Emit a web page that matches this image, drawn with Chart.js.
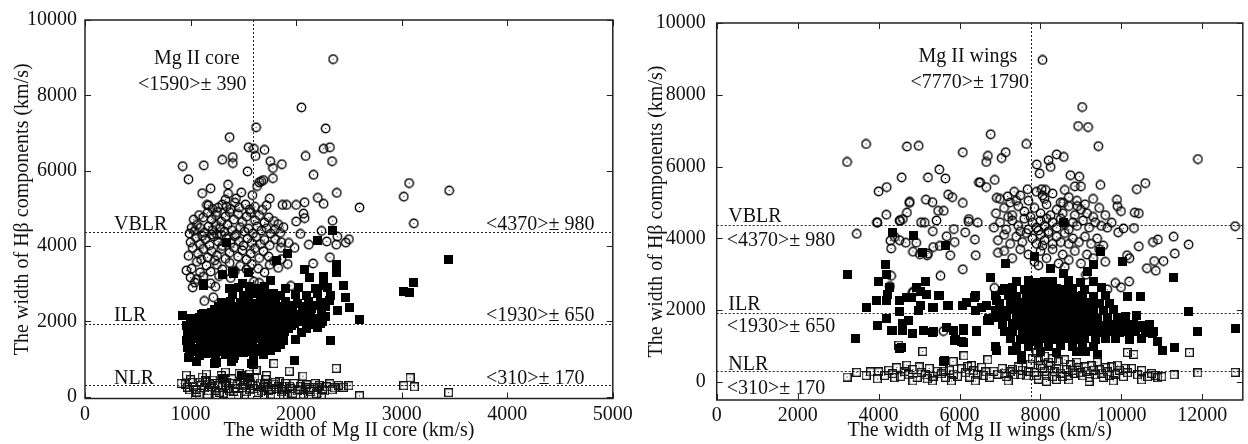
<!DOCTYPE html>
<html><head><meta charset="utf-8">
<script src="https://cdn.jsdelivr.net/npm/chart.js@4/dist/chart.umd.min.js"></script>
<style>
html,body{margin:0;padding:0;background:#fff;width:1248px;height:444px;overflow:hidden}
#cL{position:absolute;left:0;top:0}
#cR{position:absolute;left:624px;top:0}
</style></head>
<body>
<canvas id="cL" width="660" height="444"></canvas>
<canvas id="cR" width="624" height="444"></canvas>
<script>
// ---------------- DATA ----------------
const hbetaTicks = [0, 2000, 4000, 6000, 8000, 10000];
const coreTicks = [0, 1000, 2000, 3000, 4000, 5000];
const wingsTicks = [0, 2000, 4000, 6000, 8000, 10000, 12000];
const hbetaMeans = [4370, 1930, 310];
const coreMean = 1590;
const wingsMean = 7770;

// Left panel: Mg II core width vs Hβ component width
const coreVBLR = [[2350,8960],[2050,7680],[2280,7120],[1620,7150],[1370,6890],[1550,6620],[1600,6580],[1700,6550],[1615,6390],[2260,6580],[2320,6620],[2090,6390],[1300,6290],[1400,6360],[1400,6200],[1755,6250],[1865,6170],[1780,6070],[2340,6250],[925,6120],[1125,6140],[1540,5980],[2165,5890],[980,5770],[1670,5720],[1650,5690],[1690,5750],[1780,5800],[1355,5630],[1630,5590],[1110,5400],[1190,5530],[1355,5390],[1480,5420],[1585,5350],[1750,5260],[2385,5410],[3070,5670],[3020,5310],[3450,5470],[3115,4600],[2600,5020],[2205,5280],[2260,5120],[2080,5160],[2000,5090],[1910,5090],[1870,5090],[1155,5090],[1260,5020],[2070,4860],[2080,4740],[2000,4650],[2240,4400],[2345,4670],[2390,4250],[2500,4180],[2470,4090],[2380,4035],[2290,4120],[2120,4035],[2320,3700],[2160,3535],[2040,4320],[1985,3950],[1855,3950],[980,3740],[1000,3160],[1040,3030],[1020,2900],[1130,2540],[1215,2640],[1235,2920],[1950,2940],
[1170,5080],[1210,4980],[1300,5100],[1340,5050],[1380,4980],[1420,5150],[1460,5020],[1520,5100],[1560,4970],[1610,5040],[1680,4960],[1720,5080],[1430,5260],[1330,5230],[1250,4900],
[1030,4700],[1080,4820],[1120,4760],[1160,4880],[1200,4700],[1240,4820],[1290,4650],[1330,4780],[1370,4900],[1410,4700],[1450,4850],[1490,4640],[1530,4780],[1570,4900],[1610,4680],[1650,4820],[1700,4620],[1740,4760],[1790,4660],[1830,4580],[1880,4500],[1010,4480],[1060,4560],
[990,4330],[1040,4400],[1090,4480],[1130,4350],[1170,4520],[1210,4420],[1250,4300],[1280,4480],[1320,4380],[1350,4560],[1390,4420],[1430,4300],[1470,4500],[1510,4380],[1550,4460],[1590,4330],[1630,4520],[1670,4410],[1720,4470],[1760,4330],[1800,4440],[1850,4350],[1240,4560],[1200,4300],
[1000,4100],[1050,4220],[1090,4050],[1140,4180],[1180,4020],[1220,4250],[1260,4120],[1300,4000],[1340,4200],[1380,4080],[1420,4260],[1460,4130],[1500,4010],[1540,4200],[1580,4080],[1620,4240],[1660,4050],[1700,4160],[1750,4020],[1800,4180],[1860,4100],[1930,4080],[1290,4290],[1110,4270],
[1020,3950],[1070,3800],[1120,3920],[1160,3700],[1200,3860],[1250,3750],[1290,3920],[1330,3660],[1370,3820],[1410,3960],[1450,3720],[1490,3880],[1530,3640],[1570,3800],[1610,3940],[1650,3680],[1690,3860],[1740,3720],[1790,3600],[1860,3650],[1920,3520],[1100,3640],[1230,3620],
[1010,3400],[1060,3580],[1090,3300],[1150,3480],[1190,3320],[1250,3500],[1300,3380],[1370,3550],[1420,3340],[1470,3470],[1530,3380],[1580,3520],[1640,3400],[1700,3300],[1750,3500],[1830,3420],[1120,3180],[1270,3200],[1380,3150],[1600,3050],[1650,3020],[1190,3010],[960,3350],[1060,3120]];

const coreILR = [[2340,4420],[2200,4140],[3445,3640],[2380,3510],[2380,3290],[1915,3800],[1810,3610],[2080,3370],[2130,3160],[2260,3200],[2300,2900],[2450,2940],[2470,2630],[2510,2370],[2390,2280],[2600,2060],[2325,1490],[1990,1510],[3115,3030],[3020,2800],[3070,2760],[1980,1930],[1850,1400],[1760,1230],[1980,965],[925,2150],[1105,2175],[1195,2240],[1125,2960],[1305,3230],[1400,3320],[1550,3290],[1490,3000],[1365,2880],[1760,3090],[1785,2740],[1355,2470],[1350,2320],[985,1050],[1060,920],[1230,880],[1410,1010],[1580,880],[1340,4100],[1410,3260],[1120,3000],[1250,900],[1390,940],[1600,850],[1480,560],[1560,520],[1300,480],
[990,1120],[1080,1080],[1150,1150],[1240,1060],[1330,1130],[1420,1090],[1500,1160],[1600,1070],[1690,1120],
[970,1310],[1050,1280],[1130,1340],[1210,1290],[1300,1320],[1380,1270],[1460,1350],[1550,1300],[1640,1280],[1720,1340],[1810,1300],
[960,1500],[1040,1530],[1120,1480],[1200,1520],[1290,1490],[1370,1540],[1450,1470],[1530,1510],[1620,1530],[1700,1480],[1790,1520],[1880,1500],
[970,1700],[1050,1680],[1140,1730],[1220,1690],[1300,1720],[1390,1670],[1470,1710],[1550,1740],[1640,1690],[1720,1710],[1800,1680],[1890,1730],[2050,1700],
[960,1890],[1040,1920],[1130,1880],[1210,1910],[1290,1940],[1370,1880],[1460,1920],[1540,1900],[1630,1940],[1710,1890],[1790,1910],[1880,1930],[1960,1880],[2140,1910],[2230,1950],
[1000,2080],[1080,2110],[1170,2140],[1250,2090],[1330,2120],[1410,2080],[1490,2130],[1580,2100],[1660,2070],[1740,2120],[1820,2100],[1900,2140],[2000,2090],[2100,2130],[2200,2080],[2280,2120],
[1230,2310],[1310,2280],[1400,2330],[1480,2290],[1560,2320],[1640,2280],[1720,2310],[1810,2340],[1890,2290],[1970,2320],[2060,2280],[2150,2330],[2240,2300],
[1290,2500],[1380,2530],[1470,2490],[1550,2520],[1630,2480],[1720,2530],[1800,2500],[1900,2520],[2010,2480],[2120,2530],[2230,2500],[2320,2540],
[1400,2700],[1500,2680],[1580,2730],[1660,2690],[1740,2710],[1850,2680],[1990,2720],[2100,2690],[2200,2730],[2330,2680],
[1450,2890],[1560,2920],[1640,2870],[1700,2930],[1900,2880],[2020,2910],[2180,2870],[2260,2940],
[1020,1210],[1110,1190],[1190,1230],[1280,1200],[1370,1220],[1450,1180],[1540,1210],[1630,1190],[1720,1230],
[1000,1410],[1090,1390],[1170,1420],[1250,1380],[1340,1410],[1420,1400],[1500,1430],[1590,1390],[1680,1410],[1760,1420],[1850,1380],
[1000,1610],[1080,1590],[1160,1620],[1250,1600],[1330,1580],[1410,1620],[1490,1600],[1580,1590],[1660,1620],[1750,1600],[1840,1610],
[1010,1800],[1090,1820],[1180,1790],[1260,1810],[1340,1800],[1430,1830],[1510,1790],[1600,1810],[1680,1800],[1760,1820],[1850,1790],[1930,1810],[2100,1800],[2200,1830],
[1040,2000],[1120,2010],[1210,1990],[1290,2020],[1370,2000],[1450,2010],[1540,1990],[1620,2020],[1700,2000],[1780,2010],[1860,1990],[1950,2020],[2050,2000],[2150,2010],[2250,1990],
[1120,2210],[1200,2200],[1290,2220],[1370,2190],[1450,2210],[1530,2200],[1620,2220],[1700,2190],[1780,2210],[1860,2200],[1940,2220],[2040,2190],[2140,2210],[2240,2200],
[1260,2400],[1340,2410],[1430,2390],[1510,2420],[1600,2400],[1680,2390],[1760,2410],[1850,2400],[1930,2420],[2060,2390],[2180,2410],[2280,2400]];

const coreNLR = [[3080,500],[3020,290],[3120,260],[3445,105],[2600,20],[2380,750],[2500,290],[1790,875],[1935,675],[2065,545],[910,350],[960,570],
[950,330],[990,180],[1000,450],[1030,280],[1060,120],[1080,380],[1110,520],[1130,230],[1160,60],[1180,330],[1210,440],[1240,170],[1260,290],[1290,560],[1310,90],[1340,380],[1360,220],[1390,470],[1410,140],[1440,320],[1460,620],[1490,230],[1510,40],[1540,410],[1560,180],[1590,300],[1610,500],[1640,110],[1660,360],[1690,240],[1710,450],[1740,160],[1760,60],[1790,330],[1810,220],[1840,400],[1860,130],[1890,280],[1920,30],[1950,210],[1980,350],[2010,150],[2040,270],[2070,60],[2100,310],[2130,190],[2160,240],[2190,80],[2220,300],[2250,200],[2290,260],[2320,340],[2360,230],[2400,300],[2450,250],
[970,250],[1020,380],[1050,200],[1100,300],[1140,420],[1170,150],[1200,270],[1230,350],[1270,110],[1300,250],[1330,300],[1370,150],[1400,350],[1430,220],[1470,410],[1500,290],[1530,130],[1570,360],[1600,210],[1630,280],[1670,150],[1700,320],[1730,260],[1770,200],[1800,380],[1830,260],[1870,190],[1900,350],[1940,280],[1970,90],[2030,200],[2090,230],[2140,130],[2200,250],[2270,150],[2340,180],[1080,40],[1250,20],[1450,30],[1700,30],[1880,20],[2120,20],[2240,10],[1150,600],[1330,650],[1620,700],[1720,560],[1560,600],[2180,350]];

// Right panel: Mg II wings width vs Hβ component width
const wingsVBLR = [[8050,8970],[9030,7660],[8930,7130],[9175,7100],[9430,6570],[7650,6630],[6770,6900],[3690,6630],[4700,6560],[4990,6580],[3220,6130],[6080,6400],[7140,6400],[7040,6240],[6700,6300],[6660,6130],[8400,6340],[8575,6270],[8200,6175],[8250,5990],[7910,6060],[7980,5810],[11890,6210],[5500,5920],[5650,5670],[5220,5700],[4570,5700],[6510,5560],[6660,5430],[6870,5630],[8740,5760],[8960,5720],[8850,5450],[9000,5450],[9480,5490],[10590,5540],[10380,5370],[4200,5430],[4000,5310],[7680,5370],[8030,5370],[8130,5350],[5170,5080],[5330,5010],[5720,5220],[5820,5150],[4760,4990],[6080,4990],[6920,5130],[7190,5170],[7400,5050],[8560,4990],[8910,4900],[9890,5080],[9990,4760],[9900,4900],[10330,4720],[10430,4700],[12810,4340],[4700,4720],[4190,4660],[3970,4440],[4530,4490],[4600,4540],[5140,4440],[6220,4470],[6450,4440],[3460,4130],[4290,3940],[4310,3720],[4930,3880],[5200,3530],[5770,3530],[6140,4170],[6380,3970],[6400,3530],[6080,3140],[5860,4260],[9760,4440],[9920,4170],[10050,4280],[10310,4290],[10430,3780],[10780,3900],[10900,3970],[11290,4050],[11320,3580],[11660,3830],[10810,3370],[11040,3370],[10850,3100],[10630,3170],[10140,3530],[10200,3450],[9850,2760],[9990,2640],[10190,2800],[9650,2580],[9125,2990],[6860,2620],
[3960,4450],[4520,4500],[4770,5020],[5050,4450],[5470,4770],[5610,4770],[5430,4500],[5340,4200],[5680,4060],[5880,3900],[4400,4040],[4520,3950],[4670,3880],[4850,3630],[5020,3560],[5220,3580],[5350,3760],[5510,3790],[4850,2490],[4280,2670],[5530,2960],[4310,2960],[4850,2510],[5600,1420],[7100,1950],[6230,4540],[6480,5560],
[7000,5100],[7250,5000],[7500,5200],[7700,5050],[7900,5300],[8100,5100],[8300,5250],[8500,5000],[8700,5150],[8900,5050],[9100,4950],[9300,5100],[7350,5300],[8600,5350],[8050,5200],
[6900,4700],[7100,4850],[7300,4650],[7450,4900],[7600,4750],[7750,4600],[7850,4850],[8000,4700],[8150,4950],[8250,4650],[8400,4800],[8550,4700],[8700,4900],[8850,4650],[9000,4800],[9150,4700],[9300,4600],[9450,4850],[9600,4650],[7200,4600],
[6850,4300],[7000,4450],[7150,4250],[7300,4500],[7450,4350],[7600,4550],[7700,4250],[7800,4450],[7900,4300],[8000,4500],[8100,4350],[8200,4200],[8300,4450],[8400,4300],[8500,4550],[8600,4400],[8700,4250],[8800,4450],[8900,4350],[9050,4500],[9200,4300],[9350,4450],[9500,4350],[9650,4300],[7950,4220],[8150,4550],
[6950,3950],[7100,4100],[7250,3850],[7400,4050],[7550,3900],[7650,4150],[7800,4000],[7900,3850],[8000,4100],[8100,3950],[8200,4150],[8300,3850],[8400,4050],[8500,3900],[8600,4150],[8700,3850],[8800,4000],[8950,3900],[9100,4050],[9250,3850],[9400,4000],[9550,3800],[7500,4200],[8050,3800],
[7100,3650],[7300,3450],[7500,3700],[7700,3550],[7850,3350],[8000,3650],[8150,3450],[8300,3700],[8450,3300],[8550,3550],[8700,3400],[8850,3650],[9000,3300],[9150,3550],[9300,3450],[9450,3700],[7950,3250],[8600,3200],[6950,3600],[9600,3350]];

const wingsILR = [[8570,4450],[4340,4170],[4860,4080],[5080,3620],[5650,3810],[7860,3490],[9480,3640],[10020,3350],[9170,3080],[9320,3260],[8560,3030],[8250,3170],[3220,2990],[4180,3260],[4200,2990],[4010,2810],[4270,2620],[6770,2900],[7140,3310],[11290,2910],[4200,2260],[4700,2350],[5030,2530],[5170,2800],[5180,2440],[5470,2400],[5700,2120],[5330,2080],[5030,2120],[6080,2120],[6390,2400],[6660,2140],[6400,1990],[6090,1480],[5690,1530],[3690,2080],[3970,1580],[3440,1210],[4330,1440],[4590,1620],[4830,1350],[5340,1390],[5900,1180],[6090,1100],[6420,1410],[6720,1760],[6880,980],[7370,890],[7530,730],[7780,1120],[4560,950],[5630,590],[9400,770],[9110,850],[11020,870],[11300,960],[10890,1130],[10160,2370],[10460,2370],[10380,1850],[11660,1970],[11890,1420],[12810,1480],[10580,1530],[10780,1350],
[4230,2450],[4520,2260],[4810,2350],[4930,2630],[5180,2450],[5510,2400],[5720,2130],[5350,2080],[4980,1990],[4520,1960],[4730,1710],[4190,1760],[3950,2260],[6170,2220],[6370,2350],[6540,2080],[6700,1710],[6910,2260],[7070,2540],[4350,1440],[4580,1440],[5100,1440],[5350,1420],[5840,1440],[6090,1440],[6420,1440],[5880,1170],[6060,1120],[6740,1710],[6910,890],[7320,890],[7530,620],[4520,940],[5610,570],
[7400,2800],[7700,2830],[7900,2780],[8100,2810],[8300,2790],[8700,2820],[9000,2780],[9300,2810],
[7100,2600],[7300,2620],[7600,2580],[7800,2610],[8000,2590],[8200,2630],[8400,2600],[8600,2570],[8800,2610],[9100,2590],[9500,2620],
[6900,2400],[7200,2420],[7400,2380],[7650,2410],[7850,2390],[8050,2420],[8250,2380],[8450,2410],[8650,2400],[8850,2380],[9050,2420],[9300,2390],[9600,2410],
[7000,2200],[7250,2180],[7450,2220],[7650,2190],[7850,2210],[8050,2180],[8250,2220],[8450,2200],[8650,2180],[8850,2210],[9050,2190],[9250,2220],[9450,2180],[9700,2200],
[6900,2000],[7100,1980],[7300,2020],[7500,1990],[7700,2010],[7900,1980],[8100,2020],[8300,2000],[8500,1980],[8700,2010],[8900,1990],[9100,2020],[9300,1980],[9550,2000],[9800,2010],
[6950,1800],[7150,1820],[7400,1780],[7600,1810],[7800,1790],[8000,1820],[8200,1800],[8400,1780],[8600,1810],[8800,1790],[9000,1820],[9200,1800],[9400,1780],[9650,1810],[9900,1790],[10100,1820],
[7050,1600],[7300,1620],[7500,1580],[7700,1610],[7900,1590],[8100,1620],[8300,1600],[8500,1580],[8700,1610],[8900,1590],[9100,1620],[9300,1600],[9500,1580],[9700,1610],[9900,1590],[10100,1620],[10300,1600],[10500,1580],[10700,1610],
[7100,1400],[7300,1420],[7550,1380],[7750,1410],[7950,1390],[8150,1420],[8350,1400],[8550,1380],[8750,1410],[8950,1390],[9150,1420],[9350,1400],[9550,1380],[9750,1410],[9950,1390],[10150,1420],[10350,1400],[10600,1380],[10800,1410],
[7250,1200],[7500,1180],[7700,1220],[7900,1190],[8100,1210],[8300,1180],[8500,1220],[8700,1200],[8900,1180],[9100,1210],[9350,1190],[9600,1220],[9850,1200],[10200,1180],[10500,1210],
[7400,1000],[7700,980],[7950,1020],[8200,990],[8500,1010],[8800,980],[9050,1020],[9300,1000],
[8000,850],[8400,830],[8900,860]];

const wingsNLR = [[3220,140],[3460,270],[3690,180],[3970,90],[4500,1030],[5090,850],[6110,730],[6700,620],[6290,460],[5840,570],[7910,820],[8100,720],[8300,650],[10150,820],[10310,770],[11680,820],[11890,255],[12810,270],[4850,30],[5330,30],[5800,30],[6390,30],[7200,30],[9800,30],[10500,60],[11300,200],[11000,150],[10850,180],[10900,120],
[4000,280],[4150,180],[4250,330],[4350,230],[4450,400],[4550,150],[4650,290],[4750,200],[4850,350],[4950,130],[5050,270],[5150,200],[5250,380],[5350,160],[5450,300],[5550,230],[5650,130],[5750,330],[5850,220],[5950,160],[6050,370],[6150,260],[6250,140],[6350,310],[6450,200],[6550,410],[6650,280],[6750,130],[6850,300],[6950,220],[7050,380],[7150,150],[7250,280],[7350,200],[7450,420],[7550,330],[7650,170],[7750,500],[7850,260],[7950,600],[8050,380],[8150,180],[8250,450],[8350,280],[8450,560],[8550,150],[8650,350],[8750,480],[8850,240],[8950,400],[9050,170],[9150,300],[9250,450],[9350,200],[9450,340],[9550,130],[9650,280],[9750,420],[9850,220],[9950,330],[10050,150],[10150,260],[10250,380],[10400,200],[10500,320],[10650,150],[10750,240],
[7100,250],[7300,350],[7500,200],[7700,300],[7800,650],[7900,180],[8000,450],[8100,300],[8200,550],[8300,150],[8400,380],[8500,250],[8600,620],[8700,180],[8800,320],[8900,550],[9000,260],[9100,420],[9200,130],[9300,330],[9400,560],[9500,250],[9600,400],[9700,180],[9900,470],[10100,380],[7950,80],[8400,70],[8700,60],[9200,20],[8150,20],[4400,120],[5000,420],[5600,300],[6200,430],[6600,180],[4700,470],[3800,280],[5200,90]];

// -------------- MARKERS --------------
function marker(kind){
  const c = document.createElement('canvas');
  const n = kind === 'circle' ? 11 : 9;
  c.width = n; c.height = n;
  const g = c.getContext('2d');
  if (kind === 'circle') {
    g.strokeStyle = '#000'; g.lineWidth = 1.4;
    g.beginPath(); g.arc(5.5, 5.5, 4.2, 0, Math.PI*2); g.stroke();
    g.fillStyle = '#222'; g.fillRect(5, 5, 1, 1);
  } else if (kind === 'filled') {
    g.fillStyle = '#000'; g.fillRect(0, 0, 9, 9);
  } else {
    g.strokeStyle = '#111'; g.lineWidth = 1.3;
    g.strokeRect(0.65, 0.65, 7.7, 7.7);
    g.fillStyle = '#222'; g.fillRect(4, 4, 1, 1);
  }
  return c;
}
const mCircle = marker('circle'), mFilled = marker('filled'), mOpen = marker('open');

const FONT = '"Liberation Serif", "Times New Roman", serif';

const overlay = {
  id: 'overlay',
  beforeDatasetsDraw(chart, args, o) {
    const {ctx, chartArea: a, scales: {x, y}} = chart;
    ctx.save();
    ctx.strokeStyle = '#222'; ctx.lineWidth = 1; ctx.setLineDash([2, 2]);
    o.hLines.forEach(v => {
      const py = Math.round(y.getPixelForValue(v)) + 0.5;
      ctx.beginPath(); ctx.moveTo(a.left, py); ctx.lineTo(a.right, py); ctx.stroke();
    });
    const px = Math.round(x.getPixelForValue(o.vLine)) + 0.5;
    ctx.beginPath(); ctx.moveTo(px, a.top); ctx.lineTo(px, a.bottom); ctx.stroke();
    ctx.restore();
  },
  afterDatasetsDraw(chart, args, o) {
    const {ctx, chartArea: a, scales: {x, y}} = chart;
    ctx.save();
    ctx.strokeStyle = '#222'; ctx.lineWidth = 1.5; ctx.setLineDash([]);
    ctx.strokeRect(a.left, a.top, a.right - a.left, a.bottom - a.top);
    ctx.lineWidth = 1;
    const L = 6;
    x.ticks.forEach(t => {
      const px = Math.round(x.getPixelForValue(t.value)) + 0.5;
      ctx.beginPath();
      ctx.moveTo(px, a.bottom); ctx.lineTo(px, a.bottom - L);
      ctx.moveTo(px, a.top); ctx.lineTo(px, a.top + L);
      ctx.stroke();
    });
    y.ticks.forEach(t => {
      const py = Math.round(y.getPixelForValue(t.value)) + 0.5;
      ctx.beginPath();
      ctx.moveTo(a.left, py); ctx.lineTo(a.left + L, py);
      ctx.moveTo(a.right, py); ctx.lineTo(a.right - L, py);
      ctx.stroke();
    });
    ctx.fillStyle = '#111';
    ctx.font = '20px ' + FONT;
    ctx.textBaseline = 'alphabetic';
    o.labels.forEach(l => {
      ctx.textAlign = l.align || 'left';
      ctx.fillText(l.text, l.x, l.y + 7);
    });
    ctx.restore();
  }
};

function makeChart(id, cfg) {
  const tickFont = {family: FONT, size: 20};
  return new Chart(document.getElementById(id), {
    type: 'scatter',
    data: {
      datasets: [
        {data: cfg.nlr.map(p => ({x: p[0], y: p[1]})), pointStyle: mOpen, pointRadius: 4},
        {data: cfg.ilr.map(p => ({x: p[0], y: p[1]})), pointStyle: mFilled, pointRadius: 4},
        {data: cfg.vblr.map(p => ({x: p[0], y: p[1]})), pointStyle: mCircle, pointRadius: 4}
      ]
    },
    options: {
      responsive: false, animation: false, devicePixelRatio: 1,
      layout: {padding: {left: 0, right: cfg.padRight, top: 17.3, bottom: 0}},
      plugins: {legend: {display: false}, tooltip: {enabled: false},
        overlay: {hLines: hbetaMeans, vLine: cfg.vLine, labels: cfg.labels}},
      scales: {
        x: {
          type: 'linear', min: 0, max: cfg.xMax,
          grid: {display: false, drawTicks: false}, border: {display: false},
          afterBuildTicks: s => { s.ticks = cfg.xTicks.map(v => ({value: v})); },
          ticks: {font: tickFont, color: '#111', padding: 4, autoSkip: false, maxRotation: 0, callback: v => String(v)},
          title: {display: true, text: cfg.xTitle, font: tickFont, color: '#111', padding: {top: 0, bottom: 1}},
          afterFit: s => { s.height = cfg.xH; }
        },
        y: {
          type: 'linear', min: cfg.yMin, max: 10000,
          grid: {display: false, drawTicks: false}, border: {display: false},
          afterBuildTicks: s => { s.ticks = hbetaTicks.map(v => ({value: v})); },
          ticks: {font: tickFont, color: '#111', padding: cfg.yPad, autoSkip: false, callback: v => String(v)},
          title: {display: true, text: 'The width of Hβ components (km/s)', font: tickFont, color: '#111', padding: {top: cfg.yTitlePad, bottom: 0}},
          afterFit: s => { s.width = cfg.yW; }
        }
      }
    },
    plugins: [overlay]
  });
}

makeChart('cL', {
  vblr: coreVBLR, ilr: coreILR, nlr: coreNLR,
  xMax: 5000, xTicks: coreTicks, yMin: -50, vLine: coreMean,
  xTitle: 'The width of Mg II core (km/s)',
  padRight: 660 - 612.8, xH: 45.5, yW: 85, yPad: 8, yTitlePad: 11,
  labels: [
    {text: 'Mg II core', x: 154, y: 57},
    {text: '<1590>± 390', x: 138, y: 83},
    {text: 'VBLR', x: 114, y: 223},
    {text: '<4370>± 980', x: 486, y: 223},
    {text: 'ILR', x: 114, y: 314},
    {text: '<1930>± 650', x: 486, y: 314},
    {text: 'NLR', x: 114, y: 377},
    {text: '<310>± 170', x: 486, y: 377}
  ]
});

makeChart('cR', {
  vblr: wingsVBLR, ilr: wingsILR, nlr: wingsNLR,
  xMax: 13000, xTicks: wingsTicks, yMin: -500, vLine: wingsMean,
  xTitle: 'The width of Mg II wings (km/s)',
  padRight: 624 - 618.8, xH: 44, yW: 92.7, yPad: 11, yTitlePad: 21,
  labels: [
    {text: 'Mg II wings', x: 294.5, y: 55},
    {text: '<7770>± 1790', x: 286.5, y: 81},
    {text: 'VBLR', x: 104.3, y: 215},
    {text: '<4370>± 980', x: 102.7, y: 239},
    {text: 'ILR', x: 104.3, y: 303},
    {text: '<1930>± 650', x: 102.7, y: 325},
    {text: 'NLR', x: 104.3, y: 363},
    {text: '<310>± 170', x: 102.7, y: 387}
  ]
});
</script>
</body></html>
